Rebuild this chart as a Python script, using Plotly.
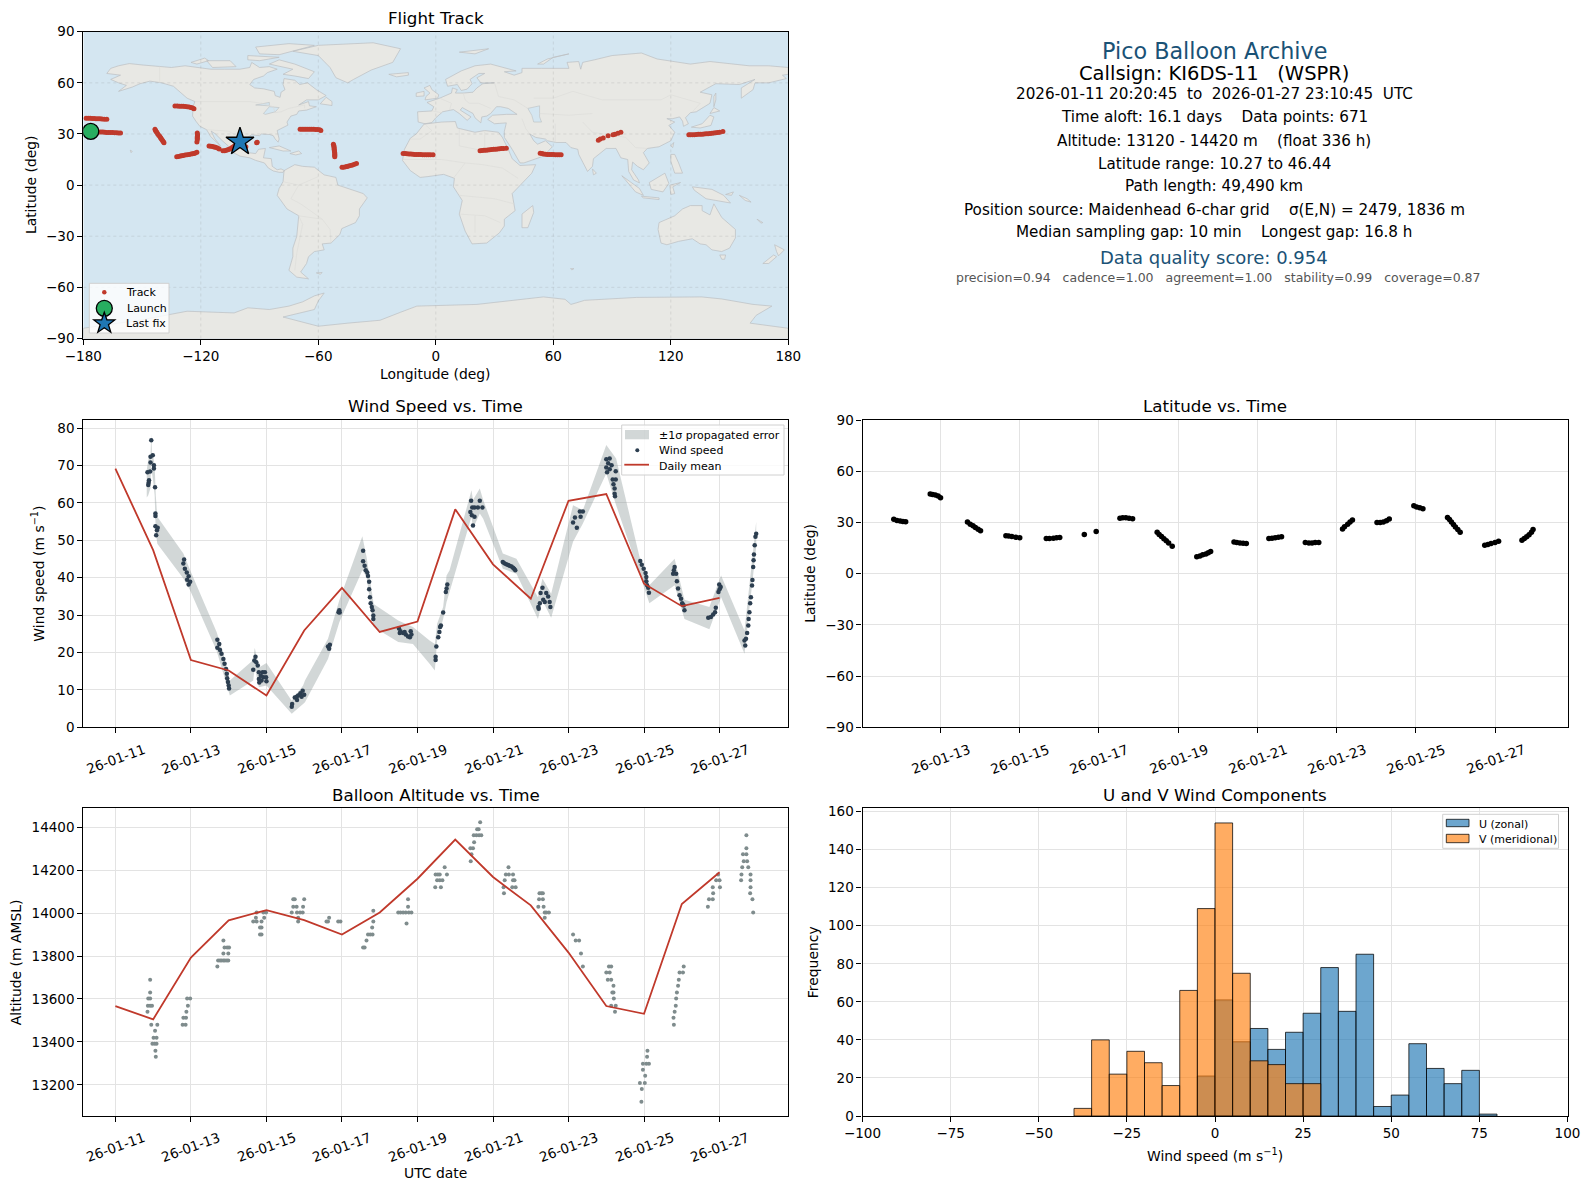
import numpy as np
import pandas as pd
import plotly.graph_objects as go

FONT = "DejaVu Sans"
W, H = 1590, 1189
RED = "#c0392b"
NAVY = "#2c3e50"
GREY = "#7f8c8d"
BLUE_TXT = "#1a5276"
OCEAN = "#d4e6f1"

# ---- map outline (lon, lat) ----
north_america = [(-168,65.5),(-166,68.5),(-162,70),(-156.5,71.3),(-150,70.5),(-141,69.7),(-135,69),(-128,70),(-124,69.5),(-115,68),(-108,68),(-100,68),(-95,69),(-94,72),(-90,69),(-85,69.5),(-81,68),(-86,66),(-88,64),(-93,62),(-95,59),(-92.5,57),(-88,56.5),(-82.5,55),(-82,52.5),(-79.5,51.5),(-79,54.5),(-77,56),(-78,59),(-77.5,62.5),(-72,61.5),(-69.5,59),(-65.5,60),(-61,56),(-56,52.5),(-60,50),(-66,50),(-70,47),(-65,49),(-64.5,46.5),(-61,46),(-66,44),(-70,43.5),(-71,41.5),(-74,40.5),(-76,37),(-75.5,35.2),(-78,33.8),(-81,32),(-80,27),(-80.5,25.2),(-82,27),(-83,29),(-85,29.7),(-89,30),(-90,29),(-94,29.5),(-97,27.5),(-97.5,23),(-95.5,19),(-92,18.5),(-90.5,21),(-87,21.5),(-88,16),(-84,15.5),(-83.5,11),(-81,9),(-79,9.5),(-77.3,8.5),(-78,7.5),(-80,7.5),(-83,8.3),(-85.5,10),(-87.5,13),(-92,14.5),(-95,16),(-100,17),(-105,20),(-106,23),(-109,26),(-112.5,30),(-114.7,31.7),(-113,27.5),(-110,23),(-112,25),(-115,28.5),(-117,32.5),(-120.5,34.5),(-122.5,37.5),(-124.2,40.5),(-124,46),(-123,49),(-127,51),(-130.5,54.5),(-134,58),(-140,60),(-146,61),(-151,59.5),(-155,57.5),(-162,55),(-158,58.5),(-162,60),(-166,62),(-161,64.5),(-168,65.5)]
greenland = [(-73,78.5),(-60,82),(-32,83.5),(-18,80),(-22,72),(-33,67.5),(-42,62),(-45,60),(-51,63),(-54,69),(-60,76),(-73,78.5)]
baffin = [(-80,73.5),(-72,71),(-62,66.5),(-65,62.5),(-72,64),(-78,65),(-73,68),(-85,71),(-80,73.5)]
victoria = [(-117,73),(-105,73),(-102,69.5),(-114,69),(-117,73)]
ellesmere = [(-90,77),(-80,76.5),(-62,82),(-75,83),(-92,81),(-90,77)]
banks = [(-125,72),(-118,74.5),(-116,73),(-122,71),(-125,72)]
devon = [(-96,76),(-80,75),(-90,73),(-96,73.5),(-96,76)]
newfoundland = [(-59,47.7),(-53,46.7),(-53,49),(-56,51.5),(-59,47.7)]
cuba = [(-85,22),(-80,23),(-74,20),(-78,20),(-85,22)]
hispaniola = [(-74.5,18.5),(-70,20),(-68.5,18.5),(-71.5,17.7),(-74.5,18.5)]
hawaii = [(-156,20.5),(-155,19.8),(-155.6,19),(-156,20.5)]
south_america = [(-77.5,8.5),(-72,12),(-68,11),(-62,10.5),(-57,6),(-51,4.5),(-50,0),(-44,-2.5),(-37,-5),(-35,-7.5),(-39,-14),(-39,-18),(-41,-22),(-48,-25.5),(-49,-29),(-53.5,-34),(-58,-34.5),(-57,-38),(-62,-39),(-65,-42),(-66,-46),(-69,-51),(-65,-55),(-71,-54),(-75,-50),(-73,-42),(-73,-37),(-71,-30),(-70,-18),(-76,-14),(-81,-6),(-80,-2),(-78,2),(-77.5,8.5)]
africa = [(-6,35.8),(3,37),(10,37.3),(11,33.5),(20,31),(25,32),(32,31),(34,28),(37,21),(39,15.5),(43,11.5),(51,12),(49,7),(42,-1),(39,-5),(40.5,-15),(35,-20),(35,-24),(32.5,-28),(26,-34),(18.5,-34.5),(15,-27),(12,-17),(13.5,-9),(9,-1),(9.5,4),(4,6.3),(-4,5),(-8,4.5),(-13,8.5),(-17,14.5),(-16,21),(-13,27.5),(-10,30),(-6,35.8)]
eurasia = [(-9,37),(-9.3,43),(-2,43.5),(-1,46),(-4.5,48.5),(2,51),(8,54),(8.5,57),(11,56),(10,54),(14,54),(19,54.5),(21,57),(24,59.5),(30,60),(23,60),(21,63),(25,65.5),(22,65.5),(17.5,62),(18.5,59.5),(16,56.3),(13,55.5),(11,59),(6,58),(5,62),(13,67),(20,70),(28,71),(41,67),(35,66.5),(40,64.5),(44,66),(44,68.5),(54,68.5),(68,68.5),(67,72),(73,72.5),(74,68),(75,72),(81,73.5),(90,76),(105,77.5),(113,74),(130,71),(140,72.5),(160,70),(170,70),(180,69),(180,65),(177,64.5),(179,62.5),(170,60),(163,60),(162,56),(156,51),(156,57),(163,62),(155,59),(143,59.5),(135,54.5),(141,53),(140,48),(133,43),(130,42.5),(127.5,39.5),(129,36),(126.5,34.5),(126,37.5),(124.5,40),(121,39),(118,39),(122,37),(119,35),(122,31),(120,26),(114,22.5),(108,21.5),(106,19),(109,13),(106,9),(103,11),(100.5,13.5),(100,9),(103.5,3),(104,1.3),(101,3),(98.5,8),(98,15),(94.5,16),(92,21.5),(87,21.5),(80.5,15.5),(80,11),(77.5,8),(73,18),(72.5,21),(69,22),(66.5,25),(61.5,25),(57,26),(56,27),(51,28),(48,30),(50,26),(52,24),(56,26),(59.5,22.5),(55,17),(45,13),(43,13),(39,21),(35,28),(35,31.5),(36,36.5),(30,36),(26.5,38.5),(29,41),(36,41.5),(41.5,41.5),(37,45),(33,46),(31,46),(28,42),(26,40.5),(23.5,40),(23,36.5),(20,39.5),(19,42),(13.5,45.5),(12.5,44),(18,40),(16,38),(12,42),(9,44.3),(3.5,43),(0,39.5),(-2,36.7),(-5.5,36),(-9,37)]
britain = [(-5.5,50),(1,51),(1.5,53),(-2,56),(-3,58.5),(-6,57),(-3,54),(-5,52),(-5.5,50)]
ireland = [(-10,52),(-6,52.3),(-6,55),(-10,54),(-10,52)]
iceland = [(-24,65),(-14,66),(-14,64.5),(-20,63.5),(-24,65)]
svalbard = [(12,78),(27,80),(20,77),(12,78)]
novaya = [(52,71),(57,74),(68,77),(60,75),(55,71),(52,71)]
honshu = [(130.5,34),(136,36),(140,41),(142,40),(140.5,35),(135,33.5),(130.5,34)]
hokkaido = [(140,42),(142,45.5),(145,43.5),(141,42),(140,42)]
sakhalin = [(142,46),(143,50),(143,54),(142,52),(142,46)]
taiwan = [(120,23),(121.5,25),(121,22),(120,23)]
philippines = [(120,18),(122,18),(124,13),(126,7),(122,7),(120,14),(120,18)]
borneo = [(109,1.5),(117,7),(119,1),(116,-4),(110,-2.5),(109,1.5)]
sumatra = [(95,5.5),(104,-2),(106,-6),(102,-4),(95,5.5)]
java = [(105,-6.5),(114,-7.5),(114,-8.5),(106,-7.5),(105,-6.5)]
sulawesi = [(119.5,0),(125,1.5),(121,-1),(122,-5),(120,-5.5),(119.5,0)]
new_guinea = [(131,-1),(141,-2.5),(147,-6),(150.5,-10.5),(143,-9),(138,-8),(132,-3),(131,-1)]
sri_lanka = [(80,9.5),(82,7),(80.5,6),(80,9.5)]
madagascar = [(49.5,-12),(50,-16),(47,-25),(44,-25),(44,-17),(49.5,-12)]
australia = [(114,-22),(122,-18),(126,-14),(130,-12),(136,-12),(136,-15),(140,-17.5),(142,-11),(146,-19),(153,-26),(153,-31),(150,-37),(146,-39),(141,-38),(138,-35),(135,-34.5),(131,-31.5),(124,-33),(118,-35),(115,-34),(113.5,-26),(114,-22)]
tasmania = [(145,-41),(148,-41),(147.5,-43.5),(146,-43.5),(145,-41)]
nz_north = [(173,-35),(178,-38),(175,-41.5),(174,-39),(173,-35)]
nz_south = [(172.5,-41),(174,-42),(170,-46),(167,-46),(172.5,-41)]
new_britain = [(148,-5.5),(152,-4),(151,-6),(148,-5.5)]
solomon = [(155,-6),(159,-8),(161,-10),(158,-9),(155,-6)]
new_caledonia = [(164,-20),(167,-22),(166,-22.3),(164,-20)]
falklands = [(-61,-51.5),(-58,-51.3),(-59,-52.3),(-61,-51.5)]
kerguelen = [(68.8,-49),(70.5,-49),(69.5,-49.8),(68.8,-49)]
antarctica = [(-180,-84),(-150,-79),(-127,-74),(-103,-75),(-96,-72),(-85,-73),(-75,-71),(-68,-68.5),(-62,-65),(-57,-63.3),(-60,-68),(-62,-73),(-78,-77.4),(-60,-82.8),(-45,-81),(-28.5,-79.3),(-18,-74.6),(-9.7,-71),(21,-70),(55,-65.6),(66,-67),(69,-70),(72,-69),(76,-67.6),(102.6,-65.9),(135.8,-65.6),(146,-66.8),(162,-70),(171.6,-71),(163.6,-76.4),(160.5,-81),(180,-84),(180,-90),(-180,-90),(-180,-84)]
land_polys = [north_america, greenland, baffin, victoria, ellesmere, banks, devon, newfoundland, cuba, hispaniola, hawaii,
              south_america, africa, eurasia, britain, ireland, iceland, svalbard, novaya, honshu, hokkaido, sakhalin, taiwan,
              philippines, borneo, sumatra, java, sulawesi, new_guinea, sri_lanka, madagascar, australia, tasmania,
              nz_north, nz_south, new_britain, solomon, new_caledonia, falklands, kerguelen, antarctica]
caspian = [(47,45),(53,46.5),(53,40),(54,37),(50,37),(49,41),(47,45)]
lake_superior = [(-92,47),(-85,48.5),(-85,46.5),(-92,47)]
lake_huron = [(-88,42),(-85,46),(-80,45.5),(-82,43),(-87,41.5),(-88,42)]
lake_polys = [caspian, lake_superior, lake_huron]
borders = [
    [(-123,49),(-95,49),(-89,48),(-83,46),(-82,42.5),(-79,43),(-75,45),(-70,46),(-67,47),(-67,45)],
    [(-141,69.7),(-141,60)],
    [(-117,32.5),(-106,31.7),(-97,26)],
    [(-60,5),(-70,0),(-74,-8),(-69,-11),(-58,-20),(-54,-26),(-53.5,-34)],
    [(-70,-18),(-68,-23),(-71,-40),(-72,-50)],
    [(-78,2),(-70,0)], [(-70,-18),(-58,-20)],
    [(-5,35),(-2,32),(-8,27),(-13,27)],
    [(12,33),(12,23),(25,20),(25,32)], [(25,22),(37,22)],
    [(-17,15),(3,15),(15,13),(24,12),(34,10),(42,4)],
    [(9,4),(15,13)], [(12,-6),(30,-8),(40,-11)], [(12,-17),(25,-18),(33,-22)], [(20,-28),(20,-18)],
    [(30,60),(32,52),(40,50),(47,45)], [(50,51),(60,51),(70,55),(85,50),(98,50),(115,50),(120,53),(135,48),(131,43)],
    [(75,37),(80,31),(97,28),(102,22),(108,21.5)], [(53,42),(68,41),(80,42)],
    [(44,39),(46,33),(48,30)], [(61,36),(61,25)],
    [(-2,43.5),(3,42.5)], [(2,51),(8,48),(7,44)], [(14,54),(15,50),(17,48),(22,48),(28,45)],
]

# ---- flight track on the map ----
track_lon = [-178.6,-177.5,-176.5,-175.5,-174.5,-173.5,-172.5,-171.5,-170.5,-169.3,-168,
             -176,-174.5,-173,-172,-171,-170,-169,-168,-167,-166,-165,-164,-163,-162,-161,
             -143.4,-143.1,-142.8,-142.4,-142,-141.5,-141,-140.6,-140.3,-139.9,-139.5,-139.1,-138.8,
             -133.2,-132,-131,-130,-129,-128,-127,-126,-125,-124.2,-123.5,
             -121.8,-121.7,-121.7,-121.8,-121.8,-121.8,-122,
             -132.3,-131.4,-130.5,-129.7,-129,-128,-127,-126,-125,-124.2,-123.5,-122.8,-122,
             -115.8,-114.9,-114,-113.2,-112.5,-111.5,-110.6,
             -108.7,-107.8,-107,-106.2,-105.5,-104.7,-104,-103.2,-102.5,-101.7,-101,-97,-98,-91.5,-91.2,
             -69.3,-68.3,-67.3,-66.3,-65.3,-64.3,-63.3,-62.3,-61.3,-60.3,-59.3,-58.7,
             -52.3,-52.1,-52,-51.9,-51.9,-51.8,-51.7,-51.6,-51.6,-51.6,-51.6,
             -47.9,-47,-46,-45.3,-44.5,-43.5,-42.5,-41.5,-40.5,
             -16.7,-15.7,-14.7,-13.7,-12.7,-11.7,-10.7,-9.7,-8.7,-7.7,-6.7,-5.7,-4.7,-3.7,-2.7,-1.4,
             22.6,23.6,24.6,25.6,26.6,27.6,28.6,29.6,30.6,31.6,32.6,33.6,34.6,36,
             53.3,54.2,55,56,57,58,59,60,61,62,63,64,
             83,84,85.5,88,90.5,91.5,93,94.5,
             129.2,130,131,132,133,134,135,136,137,138,139,140,141,142,143,144,145,146.6]
track_lat = [39.2,39.2,39.2,39.1,39.1,39,39,38.9,38.8,38.7,38.6,
             31.5,31.4,31.3,31.2,31.1,31.1,31,30.9,30.9,30.8,30.8,30.7,30.7,30.6,30.6,
             32.7,32.1,31.5,30.8,30,29.3,28.7,28,27.3,26.7,26,25.4,24.8,
             46.4,46.4,46.3,46.2,46.2,46.1,46,45.8,45.5,45.2,44.8,
             30.5,29.7,29,28.2,27.5,26.6,25.3,
             16.6,16.8,17,17.2,17.4,17.6,17.8,18,18.2,18.4,18.6,18.9,19.2,
             22.9,22.8,22.6,22.4,22.2,21.7,21.2,
             20.1,20.2,20.4,20.7,21,21.5,22,22.6,23.2,23.9,24.5,22.5,23,24.8,25.2,
             32.7,32.8,32.8,32.8,32.8,32.8,32.7,32.7,32.6,32.6,32.5,32.1,
             24,23.2,22.5,21.7,21,20.2,19.5,18.8,18,17.3,16.6,
             10.4,10.5,10.7,10.9,11.2,11.5,11.8,12.2,12.6,
             18.6,18.5,18.4,18.3,18.2,18.1,18,18,17.9,17.9,17.8,17.8,17.8,17.8,17.8,17.8,
             20.2,20.3,20.4,20.5,20.6,20.7,20.9,21,21.1,21.2,21.3,21.4,21.5,21.6,
             18.7,18.5,18.3,18.1,18,18,17.9,17.9,17.8,17.8,17.8,17.8,
             26.3,27,27.6,29,29.5,29.8,30.4,31,
             29.5,29.5,29.6,29.6,29.7,29.8,29.9,29.9,30,30.1,30.2,30.3,30.4,30.5,30.7,30.9,31,31.5]
launch_lon, launch_lat = [-176.2], [31.5]
last_lon, last_lat = [-100], [25.4]

# ---- latitude vs time (day of January 2026) ----
lat_day = [11.82,11.9,11.98,12.05,12.12, 12.74,12.8,12.87,12.94,13.0,
           13.68,13.75,13.82,13.88,13.95,14.01, 14.65,14.72,14.8,14.9,15.0,
           15.67,15.75,15.85,15.93,16.01, 16.63,16.93, 17.53,17.6,17.68,17.76,17.85,
           18.47,18.52,18.58,18.64,18.7,18.76,18.85, 19.47,19.55,19.62,19.7,19.76,19.82,
           20.41,20.48,20.56,20.64,20.72, 21.29,21.37,21.45,21.53,21.61, 22.21,22.3,22.38,22.46,22.55,
           23.15,23.2,23.28,23.34,23.4, 24.02,24.1,24.18,24.26,24.33, 24.95,25.02,25.1,25.18,
           25.8,25.85,25.9,25.95,26.0,26.06,26.12, 26.74,26.82,26.9,27.0,27.09,
           27.68,27.74,27.8,27.86,27.92,27.96]
lat_val = [31.8,31.2,30.8,30.6,30.4, 46.6,46.4,46,45.5,44.5,
           30.2,29,28,27,26,25.1, 22.2,22,21.7,21.3,21,
           20.6,20.6,20.8,21,21.2, 23,24.7, 32.5,32.8,32.8,32.5,32.1,
           24.3,23,21.8,20.5,19.3,18,16.1, 9.9,10.4,11,11.5,12.2,13,
           18.5,18.3,18,17.8,17.7, 20.6,20.8,21,21.3,21.6, 18.3,18,18,18.2,18.3,
           26.1,27.5,29,30.3,31.4, 30,30,30.3,31,32, 39.8,39,38.6,38,
           32.9,31.7,30.2,28.8,27.3,25.8,24.3, 16.7,17.1,17.6,18.2,19,
           19.6,20.6,21.6,22.8,24.2,25.9]

# ---- wind speed ----
wind_day = [11.95,11.99,11.93,11.93,12.02,11.92,11.85,12.02,11.89,11.88,11.87,12.05,12.06,12.06,12.06,12.12,12.10,12.08,
            12.82,12.80,12.84,12.89,12.94,12.90,12.98,12.94,
            13.70,13.75,13.70,13.77,13.81,13.86,13.89,13.93,13.95,13.96,13.98,14.0,14.01,
            14.71,14.68,14.73,14.77,14.65,14.80,14.90,14.96,14.85,14.80,14.92,14.99,14.87,15.0,14.81,
            15.68,15.67,15.75,15.81,15.84,15.90,15.96,16.0,15.93,15.80,
            16.63,16.66,16.68,16.93,16.94,16.91,
            17.56,17.56,17.60,17.63,17.67,17.69,17.72,17.72,17.74,17.76,17.79,17.81,17.83,17.83,
            18.51,18.55,18.62,18.69,18.75,18.82,18.84,18.53,18.66,18.80,
            19.48,19.48,19.5,19.55,19.58,19.6,19.62,19.68,19.75,19.77,19.79,
            20.42,20.65,20.45,20.51,20.6,20.72,20.4,20.44,20.51,20.47,
            21.26,21.3,21.35,21.4,21.44,21.49,21.53,21.56,21.59,
            22.31,22.26,22.41,22.46,22.33,22.37,22.5,22.24,22.2,22.52,22.21,
            23.12,23.17,23.22,23.32,23.3,23.38,
            24.09,24.0,24.05,24.14,24.0,24.09,24.25,24.02,24.17,24.25,24.19,24.22,24.22,24.23,
            24.9,24.94,24.99,25.04,25.06,25.06,25.08,25.11,25.13,
            25.81,25.79,25.85,25.77,25.87,25.9,25.94,25.98,26.01,26.05,26.07,26.02,
            26.7,26.77,26.83,26.88,26.9,26.97,26.99,27.03,27.0,
            27.68,27.66,27.7,27.73,27.76,27.77,27.79,27.81,27.83,27.86,27.87,27.89,27.9,27.91,27.93,27.95,27.97]
wind_val = [76.8,72.8,72.4,70.8,70.1,68.4,68.2,69.2,66.1,65.4,64.8,64.2,57.2,56.5,53.8,53.4,52.7,51.4,
            44.9,43.8,42.4,41.4,40.4,39.5,38.9,38.2,
            23.4,22.3,21.3,20.7,19.7,18.3,17,15.6,14.3,13.1,12.1,11.2,10.4,
            18.9,17.9,17.4,16.5,15.4,14.7,14.7,14.7,13.8,12.9,13.4,13.4,12.5,12.3,12,
            6.2,5.5,8,7.3,8.5,9.1,9.8,8.7,8.2,8.2,
            21.6,21,22.1,31.3,30.7,30.8,
            47.2,44.4,43.2,42,41.4,40.5,38.9,36.9,34.8,33.2,32.2,31.3,29.9,29,
            26.4,25.7,25.2,24.8,24.3,25.7,24.8,25.2,25.5,24.1,
            18,18.9,21.6,24.1,25.5,26.8,27.2,30.7,36.2,37.1,38.2,
            60.6,60.6,58.8,58.8,58.8,58.8,57.6,56.7,56.3,54,
            44.2,43.9,43.6,43.4,43.2,43,42.7,42.4,42,
            37.3,35.9,35.9,35,34.1,33.5,33.5,33.2,32.2,32.2,31.7,
            54.8,56.1,53.4,56.3,57.7,57.7,
            71.9,71.7,70.6,70.1,69.5,69,68.5,68.2,66.3,66.3,65,63.9,62.5,61.8,
            44.5,43.5,42.4,41.3,40.2,39.1,38,37.3,36,
            42.9,42,41.1,41.1,39.1,37.1,35.3,34.4,33.2,32.6,31.3,32.9,
            29.3,29.5,30.2,30.8,32,36.2,38.2,37.5,36.9,
            21.9,23.2,23.7,25.2,27.2,29,30.8,33.2,34.8,37.9,39.4,42.9,44.7,46.2,48.7,51,51.8]

band_day = [11.83,11.87,11.93,11.95,11.97,12.01,12.04,12.07,12.11,12.80,12.98,13.68,13.86,14.03,14.65,14.69,14.80,15.0,
            15.67,15.97,16.02,16.63,16.93,17.54,17.65,17.84,18.49,18.88,19.32,19.46,19.52,19.68,19.77,19.85,
            20.43,20.47,20.65,20.74,21.26,21.62,22.19,22.31,22.54,23.12,23.38,24.0,24.26,24.88,25.14,25.81,26.07,26.73,27.04,27.66,27.97]
band_up = [68.8,71.5,73,78.5,73.5,72,70,62,56.3,46.5,42,25.5,19.7,12.5,18,21.3,16,17.2,
           7.1,11.2,12.5,23.7,34,51.1,45.6,33,28.6,26.8,23.2,22.3,27.7,32.2,40.6,42,
           63.4,60.8,63.9,60.8,46.5,45.1,34.8,39.8,35.7,59.4,58.1,75.5,71.9,45.6,38,45.1,34.1,32.2,40.6,25.9,55]
band_lo = [61.5,62.1,64,74.5,68,65,62,52,49.1,39.8,36.6,20.5,14.3,8.5,12.5,16,10.7,11.2,
           3.6,6.2,6.7,18.3,28.1,42,40.2,26.8,22.8,22.3,17,15.2,23.2,29,33.5,36.2,
           56.3,53.2,57.2,55.8,42.4,41.1,29,33.9,29.3,49.6,54.5,67.9,59.4,41.1,33.2,38,29,26.2,34.8,19.7,48.2]

mean_day = [11,12,13,14,15,16,17,18,19,20,21,22,23,24,25,26,27]
wind_mean = [69.2,47.4,18,15.2,8.5,25.9,37.3,25.5,28.3,58.3,43.6,34.4,60.6,62.4,38.4,32.4,34.6]
alt_mean = [13567,13505,13793,13966,14014,13967,13900,14003,14160,14342,14168,14036,13816,13567,13531,14042,14190]

# ---- altitude ----
alt_day = [11.92,11.92,11.87,11.92,11.86,11.92,11.97,11.85,11.95,12.11,12.05,12.01,12.09,11.98,12.04,12.09,12.06,12.07,
           12.90,12.98,12.92,12.88,12.80,12.87,12.78,12.86,
           13.86,13.89,14.01,13.96,13.86,13.99,13.72,13.77,13.81,13.86,13.90,13.95,13.99,13.70,
           14.74,14.92,14.99,14.72,14.94,14.65,14.74,14.87,14.83,14.87,14.83,14.87,
           15.75,15.71,15.71,15.80,15.97,16.0,15.67,15.81,15.89,15.96,15.84,15.84,
           16.66,16.63,16.59,16.90,16.96,
           17.83,17.83,17.80,17.69,17.75,17.81,17.65,17.56,17.60,
           18.75,18.75,18.49,18.55,18.62,18.69,18.77,18.84,18.71,
           19.48,19.54,19.59,19.72,19.78,19.52,19.59,19.66,19.47,19.62,
           20.66,20.62,20.58,20.49,20.56,20.63,20.69,20.50,20.40,20.47,20.43,20.41,
           21.41,21.34,21.42,21.53,21.31,21.53,21.57,21.28,21.51,21.60,21.29,
           22.23,22.28,22.32,22.22,22.32,22.20,22.34,22.37,22.41,22.48,22.37,
           23.12,23.19,23.28,23.33,23.38,
           24.07,24.13,24.0,24.09,24.04,24.13,24.19,24.19,24.16,24.20,24.13,24.25,24.23,
           25.09,25.08,24.97,25.06,25.13,24.97,25.03,24.89,25.02,24.94,24.93,
           26.05,25.94,26.03,25.92,25.90,25.87,25.85,25.84,25.81,25.78,25.79,
           26.96,26.91,27.0,26.82,27.01,26.83,26.72,26.82,26.69,
           27.71,27.71,27.62,27.71,27.64,27.73,27.60,27.76,27.58,27.82,27.57,27.82,27.82,27.81,27.87,27.89]
alt_val = [13690,13630,13602,13602,13569,13569,13569,13541,13480,13480,13452,13419,13419,13391,13391,13391,13359,13331,
           13602,13602,13569,13541,13513,13513,13480,13480,
           13872,13840,13840,13840,13812,13812,13779,13779,13779,13779,13779,13779,13779,13751,
           14003,14003,14003,13978,13978,13961,13961,13961,13933,13933,13900,13900,
           14064,14064,14030,14030,14030,14064,14003,14003,14003,14003,13978,13961,
           13978,13961,13961,13961,13961,
           14011,13961,13933,13900,13900,13900,13872,13840,13840,
           14064,14030,14003,14003,14003,14003,14003,14003,13951,
           14180,14180,14180,14213,14180,14153,14153,14153,14120,14120,
           14423,14391,14391,14363,14363,14363,14363,14330,14302,14302,14274,14241,
           14213,14180,14180,14180,14153,14153,14153,14120,14120,14120,14092,
           14092,14092,14092,14064,14064,14030,14030,14003,14003,14003,13978,
           13900,13872,13872,13812,13751,
           13751,13751,13723,13723,13690,13690,13662,13630,13630,13602,13569,13569,13541,
           13359,13331,13298,13298,13298,13270,13242,13209,13209,13181,13121,
           13751,13723,13723,13690,13662,13630,13602,13569,13541,13513,13480,
           14180,14153,14153,14120,14120,14092,14064,14064,14030,
           14363,14302,14274,14274,14241,14241,14213,14213,14180,14180,14153,14153,14120,14092,14064,14003]

# ---- histogram (bin left edge, count) ----
u_left = [-5,0,5,10,15,20,25,30,35,40,45,50,55,60,65,70,75]
u_count = [21,61,39,46,35,44,54,78,55,85,5,11,38,25,17,24,1]
v_left = [-40,-35,-30,-25,-20,-15,-10,-5,0,5,10,15,20,25]
v_count = [4,40,22,34,28,16,66,109,154,75,29,27,17,17]

date_ticks = ["26-01-11","26-01-13","26-01-15","26-01-17","26-01-19","26-01-21","26-01-23","26-01-25","26-01-27"]

info_lines = ["Pico Balloon Archive",
              "Callsign: KI6DS-11   (WSPR)",
              "2026-01-11 20:20:45  to  2026-01-27 23:10:45  UTC",
              "Time aloft: 16.1 days    Data points: 671",
              "Altitude: 13120 - 14420 m    (float 336 h)",
              "Latitude range: 10.27 to 46.44",
              "Path length: 49,490 km",
              "Position source: Maidenhead 6-char grid    σ(E,N) = 2479, 1836 m",
              "Median sampling gap: 10 min    Longest gap: 16.8 h",
              "Data quality score: 0.954",
              "precision=0.94   cadence=1.00   agreement=1.00   stability=0.99   coverage=0.87"]


def to_date(days):
    return pd.Timestamp("2026-01-01") + pd.to_timedelta(np.asarray(days, dtype=float) - 1, unit="D")


def px_x(p):
    return p / W


def px_y(p):
    return 1 - p / H


def join_polys(polys):
    xs, ys = [], []
    for poly in polys:
        xs += [pt[0] for pt in poly] + [None]
        ys += [pt[1] for pt in poly] + [None]
    return xs, ys


fig = go.Figure()

# panel boxes in pixels: left, right, top, bottom
L1, R1 = 83.3, 788.3
L2, R2 = 862.5, 1567.5
MAP_Y = (31.7, 338.5)
MID_Y = (420, 727.3)
LOW_Y = (808.3, 1116)

# map
lx, ly = join_polys(land_polys)
fig.add_trace(go.Scatter(x=lx, y=ly, mode="lines", fill="toself", fillcolor="#e8e8e4",
                         line=dict(color="#bcbfc1", width=0.7), hoverinfo="skip"))
cx, cy = join_polys(lake_polys)
fig.add_trace(go.Scatter(x=cx, y=cy, mode="lines", fill="toself", fillcolor=OCEAN,
                         line=dict(color="#bcbfc1", width=0.6), hoverinfo="skip"))
bx, by = join_polys(borders)
fig.add_trace(go.Scatter(x=bx, y=by, mode="lines", line=dict(color="#dcdcd8", width=0.6), hoverinfo="skip"))
fig.add_trace(go.Scatter(x=track_lon, y=track_lat, mode="markers", name="Track", marker=dict(color=RED, size=5)))
fig.add_trace(go.Scatter(x=launch_lon, y=launch_lat, mode="markers", name="Launch",
                         marker=dict(color="#27ae60", size=16, line=dict(color="black", width=1.3))))
fig.add_trace(go.Scatter(x=last_lon, y=last_lat, mode="markers", name="Last fix",
                         marker=dict(color="#1f77b4", size=21, symbol="star", line=dict(color="black", width=1.3))))

# wind speed
fig.add_trace(go.Scatter(x=list(to_date(band_day)) + list(to_date(band_day))[::-1], y=band_up + band_lo[::-1],
                         mode="none", fill="toself", fillcolor="rgba(127,140,141,0.35)",
                         name="±1σ propagated error", xaxis="x2", yaxis="y2"))
fig.add_trace(go.Scatter(x=to_date(wind_day), y=wind_val, mode="markers", name="Wind speed",
                         marker=dict(color=NAVY, size=4.5), xaxis="x2", yaxis="y2"))
fig.add_trace(go.Scatter(x=to_date(mean_day), y=wind_mean, mode="lines", name="Daily mean",
                         line=dict(color=RED, width=1.8), xaxis="x2", yaxis="y2"))

# latitude
fig.add_trace(go.Scatter(x=to_date(lat_day), y=lat_val, mode="markers", marker=dict(color="black", size=5.5),
                         xaxis="x3", yaxis="y3"))

# altitude
fig.add_trace(go.Scatter(x=to_date(alt_day), y=alt_val, mode="markers", marker=dict(color=GREY, size=4),
                         xaxis="x4", yaxis="y4"))
fig.add_trace(go.Scatter(x=to_date(mean_day), y=alt_mean, mode="lines", line=dict(color=RED, width=1.8),
                         xaxis="x4", yaxis="y4"))

# histogram
fig.add_trace(go.Bar(x=u_left, y=u_count, width=5, offset=0, name="U (zonal)",
                     marker=dict(color="rgba(31,119,180,0.65)", line=dict(color="rgba(0,0,0,0.75)", width=1)),
                     xaxis="x5", yaxis="y5"))
fig.add_trace(go.Bar(x=v_left, y=v_count, width=5, offset=0, name="V (meridional)",
                     marker=dict(color="rgba(255,127,14,0.65)", line=dict(color="rgba(0,0,0,0.75)", width=1)),
                     xaxis="x5", yaxis="y5"))


def axis_style(**kw):
    base = dict(showline=True, linecolor="black", linewidth=1.1, mirror=True, ticks="outside", ticklen=5,
                tickwidth=1, tickcolor="black", showgrid=True, gridcolor="#e3e3e3", gridwidth=1, zeroline=False,
                tickfont=dict(family=FONT, size=13.5, color="black"))
    base.update(kw)
    return base


d0 = [to_date(10.15), to_date(28.82)]
d1 = [to_date(11.03), to_date(28.83)]
tick_dates = pd.date_range("2026-01-11", "2026-01-27", freq="2D")

fig.update_layout(
    width=W, height=H, margin=dict(l=0, r=0, t=0, b=0, autoexpand=False), paper_bgcolor="white", plot_bgcolor="white",
    barmode="overlay", font=dict(family=FONT, color="black"), showlegend=False,
    xaxis=axis_style(domain=[px_x(L1), px_x(R1)], range=[-180, 180], tickvals=list(range(-180, 181, 60)),
                     showgrid=False, anchor="y"),
    yaxis=axis_style(domain=[px_y(MAP_Y[1]), px_y(MAP_Y[0])], range=[-90, 90], tickvals=list(range(-90, 91, 30)),
                     showgrid=False, anchor="x"),
    xaxis2=axis_style(domain=[px_x(L1), px_x(R1)], range=d0, type="date", tickvals=tick_dates, showticklabels=False,
                      anchor="y2"),
    yaxis2=axis_style(domain=[px_y(MID_Y[1]), px_y(MID_Y[0])], range=[0, 82.2], dtick=10, anchor="x2"),
    xaxis3=axis_style(domain=[px_x(L2), px_x(R2)], range=d1, type="date", tickvals=tick_dates[1:], showticklabels=False,
                      anchor="y3"),
    yaxis3=axis_style(domain=[px_y(MID_Y[1]), px_y(MID_Y[0])], range=[-90, 90], tickvals=list(range(-90, 91, 30)),
                      anchor="x3"),
    xaxis4=axis_style(domain=[px_x(L1), px_x(R1)], range=d0, type="date", tickvals=tick_dates, showticklabels=False,
                      anchor="y4"),
    yaxis4=axis_style(domain=[px_y(LOW_Y[1]), px_y(LOW_Y[0])], range=[13055, 14488], tickvals=list(range(13200, 14401, 200)),
                      tickformat="d", anchor="x4"),
    xaxis5=axis_style(domain=[px_x(L2), px_x(R2)], range=[-100, 100], tickvals=list(range(-100, 101, 25)), anchor="y5"),
    yaxis5=axis_style(domain=[px_y(LOW_Y[1]), px_y(LOW_Y[0])], range=[0, 161.7], dtick=20, anchor="x5"),
)

shapes = [dict(type="rect", xref="x", yref="y", x0=-180, x1=180, y0=-90, y1=90, layer="below",
               fillcolor=OCEAN, line=dict(width=0))]
# dotted map grid sits on top of the land
for lon in range(-120, 180, 60):
    shapes.append(dict(type="line", xref="x", yref="y", x0=lon, x1=lon, y0=-90, y1=90, layer="above",
                       line=dict(color="rgba(120,120,120,0.22)", width=0.8, dash="dot")))
for la in range(-60, 90, 30):
    shapes.append(dict(type="line", xref="x", yref="y", x0=-180, x1=180, y0=la, y1=la, layer="above",
                       line=dict(color="rgba(120,120,120,0.22)", width=0.8, dash="dot")))


def legend_frame(x0, x1, y0, y1):
    shapes.append(dict(type="rect", xref="paper", yref="paper", x0=px_x(x0), x1=px_x(x1), y0=px_y(y1), y1=px_y(y0),
                       layer="above", fillcolor="rgba(255,255,255,0.8)", line=dict(color="#d0d0d0", width=1)))


def legend_rect(x0, x1, y0, y1, fill, edge=None):
    shapes.append(dict(type="rect", xref="paper", yref="paper", x0=px_x(x0), x1=px_x(x1), y0=px_y(y1), y1=px_y(y0),
                       layer="above", fillcolor=fill, line=dict(color=edge, width=1) if edge else dict(width=0)))


def legend_dot(xp, yp, d, fill, edge=None, lw=1.3):
    shapes.append(dict(type="circle", xref="paper", yref="paper", xsizemode="pixel", ysizemode="pixel",
                       xanchor=px_x(xp), yanchor=px_y(yp), x0=-d / 2, x1=d / 2, y0=-d / 2, y1=d / 2, layer="above",
                       fillcolor=fill, line=dict(color=edge, width=lw) if edge else dict(width=0)))


def legend_star(xp, yp, r, fill, edge):
    ang = np.pi / 2 + np.arange(10) * np.pi / 5
    rad = np.where(np.arange(10) % 2 == 0, r, r * 0.4)
    pts = [f"{rx:.2f},{ry:.2f}" for rx, ry in zip(rad * np.cos(ang), rad * np.sin(ang))]
    shapes.append(dict(type="path", xref="paper", yref="paper", xsizemode="pixel", ysizemode="pixel",
                       xanchor=px_x(xp), yanchor=px_y(yp), path="M" + "L".join(pts) + "Z", layer="above",
                       fillcolor=fill, line=dict(color=edge, width=1.3)))


legend_frame(89.3, 169, 283.3, 333)
legend_dot(104.3, 292.3, 4.5, RED)
legend_dot(104.3, 308.3, 16, "#27ae60", "black")
legend_star(104.3, 323.3, 11, "#1f77b4", "black")

legend_frame(621.7, 784, 425, 475)
legend_rect(625, 649, 430, 439.3, "rgba(127,140,141,0.35)")
legend_dot(637.3, 450.3, 4, NAVY)
shapes.append(dict(type="line", xref="paper", yref="paper", x0=px_x(624.3), x1=px_x(649), y0=px_y(464.7), y1=px_y(464.7),
                   layer="above", line=dict(color=RED, width=1.8)))

legend_frame(1442.7, 1558.5, 814.3, 848.3)
legend_rect(1446.3, 1469, 819.3, 826.7, "rgba(31,119,180,0.65)", "rgba(0,0,0,0.75)")
legend_rect(1446.3, 1469, 834.3, 842.7, "rgba(255,127,14,0.65)", "rgba(0,0,0,0.75)")

fig.update_layout(shapes=shapes)


def text(s, xp, yp, size=13.9, color="black", angle=0, xanchor="center", yanchor="middle"):
    fig.add_annotation(text=s, x=px_x(xp), y=px_y(yp), xref="paper", yref="paper", showarrow=False,
                       xanchor=xanchor, yanchor=yanchor, textangle=angle,
                       font=dict(family=FONT, size=size, color=color))


def date_label(s, tick, yp, axis):
    fig.add_annotation(text=s, x=tick, y=px_y(yp), xref=axis, yref="paper", showarrow=False, textangle=-20,
                       xanchor="center", yanchor="middle", font=dict(family=FONT, size=13.5, color="black"))


# legend labels
text("Track", 124, 292.3, size=11, xanchor="left")
text("Launch", 125, 308.3, size=11, xanchor="left")
text("Last fix", 124, 323.3, size=11, xanchor="left")
text("±1σ propagated error", 657.3, 435, size=11, xanchor="left")
text("Wind speed", 657.3, 450.3, size=11, xanchor="left")
text("Daily mean", 657.3, 466, size=11, xanchor="left")
text("U (zonal)", 1477.3, 824, size=11, xanchor="left")
text("V (meridional)", 1477.3, 839, size=11, xanchor="left")

# panel titles
text("Flight Track", (L1 + R1) / 2, 18, size=16.7)
text("Wind Speed vs. Time", (L1 + R1) / 2, 406, size=16.7)
text("Latitude vs. Time", (L2 + R2) / 2, 406, size=16.7)
text("Balloon Altitude vs. Time", (L1 + R1) / 2, 795, size=16.7)
text("U and V Wind Components", (L2 + R2) / 2, 795, size=16.7)

# axis labels
text("Longitude (deg)", (L1 + R1) / 2, 374)
text("Latitude (deg)", 31, (MAP_Y[0] + MAP_Y[1]) / 2, angle=-90)
text("Wind speed (m s<sup>−1</sup>)", 38, (MID_Y[0] + MID_Y[1]) / 2, angle=-90)
text("Latitude (deg)", 810, (MID_Y[0] + MID_Y[1]) / 2, angle=-90)
text("Altitude (m AMSL)", 16, (LOW_Y[0] + LOW_Y[1]) / 2, angle=-90)
text("Frequency", 813, (LOW_Y[0] + LOW_Y[1]) / 2, angle=-90)
text("UTC date", (L1 + R1) / 2, 1173)
text("Wind speed (m s<sup>−1</sup>)", (L2 + R2) / 2, 1155)

# slanted date labels, centred under their ticks
for i, lab in enumerate(date_ticks):
    date_label(lab, tick_dates[i], 758.5, "x2")
    date_label(lab, tick_dates[i], 1147, "x4")
    if i > 0:
        date_label(lab, tick_dates[i], 758.5, "x3")

# summary block
CX = 1214
text(info_lines[0], CX, 51, size=22.3, color=BLUE_TXT)
text(info_lines[1], CX, 73, size=19.5)
for s, yp in zip(info_lines[2:9], [94.5, 117.5, 141, 163.5, 186.5, 209.5, 232.5]):
    text(s, CX, yp, size=15.2)
text(info_lines[9], CX, 257.5, size=18, color=BLUE_TXT)
text(info_lines[10], 1218, 278, size=12.5, color="#555555")

fig.write_html("out.html", config={"displayModeBar": False},
               post_script="document.body.style.margin='0';document.body.style.overflow='hidden';")
